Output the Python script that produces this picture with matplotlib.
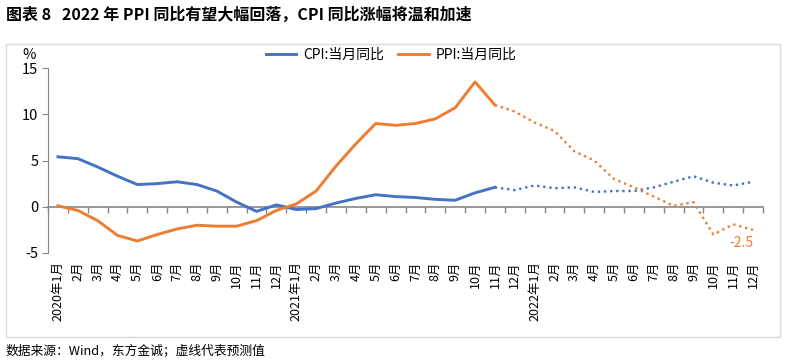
import matplotlib.pyplot as plt
import matplotlib.patches as patches
import numpy as np

plt.rcParams['font.family'] = ['Noto Sans CJK SC', 'DejaVu Sans']

# month labels 2020-01 .. 2022-12
labels = []
for yr in [2020, 2021, 2022]:
    for m in range(1, 13):
        labels.append(f"{yr}年{m}月" if m == 1 else f"{m}月")

# actual (solid) part, 2020-01 .. 2021-11
cpi_actual = [5.4, 5.2, 4.3, 3.3, 2.4, 2.5, 2.7, 2.4, 1.7, 0.5, -0.5, 0.2,
              -0.3, -0.2, 0.4, 0.9, 1.3, 1.1, 1.0, 0.8, 0.7, 1.5, 2.1]
ppi_actual = [0.1, -0.4, -1.5, -3.1, -3.7, -3.0, -2.4, -2.0, -2.1, -2.1, -1.5, -0.4,
              0.3, 1.7, 4.4, 6.8, 9.0, 8.8, 9.0, 9.5, 10.7, 13.5, 11.0]
# forecast (dotted) part, 2021-11 .. 2022-12
cpi_fcst = [2.1, 1.8, 2.3, 2.0, 2.1, 1.6, 1.7, 1.7, 2.1, 2.7, 3.3, 2.6, 2.3, 2.7]
ppi_fcst = [11.0, 10.3, 9.1, 8.2, 6.0, 5.0, 3.0, 2.1, 1.1, 0.1, 0.5, -3.0, -1.9, -2.5]

blue = "#4472C4"
orange = "#ED7D31"
grey = "#868686"

fig = plt.figure(figsize=(7.87, 3.63), dpi=100)
ax = fig.add_axes([48/787, 1-253/363, (763-48)/787, (253-68)/363])

x_act = np.arange(len(cpi_actual))
x_fc = np.arange(len(cpi_actual)-1, len(labels))

ax.plot(x_act, cpi_actual, color=blue, lw=2.1, label="CPI:当月同比")
ax.plot(x_act, ppi_actual, color=orange, lw=2.1, label="PPI:当月同比")
ax.plot(x_fc, cpi_fcst, color=blue, lw=1.7, linestyle=(0, (1, 1.6)))
ax.plot(x_fc, ppi_fcst, color=orange, lw=1.7, linestyle=(0, (1, 1.6)))

ax.text(x_fc[-1], ppi_fcst[-1] - 0.7, f"{ppi_fcst[-1]}", color=orange,
        fontsize=10, ha="right", va="top")

ax.set_xlim(-0.5, len(labels) - 0.5)
ax.set_ylim(-5, 15)
ax.set_yticks([-5, 0, 5, 10, 15])
ax.set_yticklabels(["-5", "0", "5", "10", "15"], fontsize=10.5)
ax.tick_params(axis="y", length=4, color=grey, pad=3)

ax.set_xticks(np.arange(len(labels)))
ax.set_xticklabels(labels, rotation=90, fontsize=9)
ax.tick_params(axis="x", length=0, pad=6)

for s in ["top", "right", "bottom"]:
    ax.spines[s].set_visible(False)
ax.spines["left"].set_color(grey)

# zero axis line with tick marks between categories
sec = ax.secondary_xaxis(0.25)
sec.set_xticks(np.arange(-0.5, len(labels), 1))
sec.set_xticklabels([])
sec.tick_params(length=4, color=grey, width=1)
sec.spines["bottom"].set_color(grey)
sec.spines["bottom"].set_linewidth(1.2)

fig.legend(loc="center", bbox_to_anchor=(0.497, 1-55/363), ncol=2, frameon=False,
           fontsize=10, handlelength=2.2, columnspacing=1.0, handletextpad=0.5)

fig.text(22/787, 1-55/363, "%", fontsize=10.5, ha="left", va="center")
fig.text(6/787, 1-15/363, "图表 8   2022 年 PPI 同比有望大幅回落，CPI 同比涨幅将温和加速",
         fontsize=11.5, fontweight="bold", ha="left", va="center")
fig.text(6/787, 1-352/363, "数据来源：Wind，东方金诚；虚线代表预测值",
         fontsize=9.2, ha="left", va="center")

frame = patches.Rectangle((6/787, 1-337/363), (780-6)/787, (337-44)/363,
                          transform=fig.transFigure, fill=False,
                          edgecolor="#d9d9d9", lw=1)
fig.patches.append(frame)

fig.savefig("out.png", dpi=100)
